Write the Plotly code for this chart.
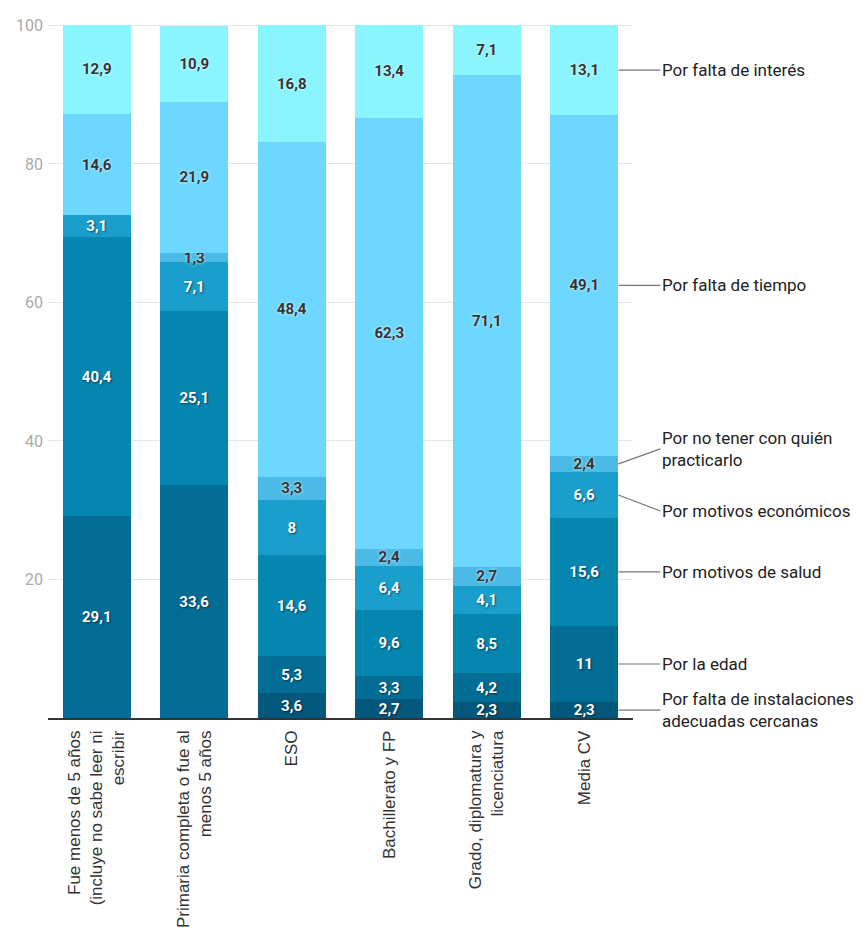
import plotly.graph_objects as go

categories = [
    "Fue menos de 5 años<br>(incluye no sabe leer ni<br>escribir",
    "Primaria completa o fue al<br>menos 5 años",
    "ESO",
    "Bachillerato y FP",
    "Grado, diplomatura y<br>licenciatura",
    "Media CV",
]

series_names = [
    "Por falta de instalaciones<br>adecuadas cercanas",
    "Por la edad",
    "Por motivos de salud",
    "Por motivos económicos",
    "Por no tener con quién<br>practicarlo",
    "Por falta de tiempo",
    "Por falta de interés",
]

instalaciones = [None, None, 3.6, 2.7, 2.3, 2.3]
edad = [29.1, 33.6, 5.3, 3.3, 4.2, 11]
salud = [40.4, 25.1, 14.6, 9.6, 8.5, 15.6]
economicos = [3.1, 7.1, 8, 6.4, 4.1, 6.6]
no_tener = [None, 1.3, 3.3, 2.4, 2.7, 2.4]
tiempo = [14.6, 21.9, 48.4, 62.3, 71.1, 49.1]
interes = [12.9, 10.9, 16.8, 13.4, 7.1, 13.1]

series_values = [instalaciones, edad, salud, economicos, no_tener, tiempo, interes]
colors = ["#03587c", "#046d95", "#0586b1", "#1a9fcc", "#4cbae6", "#6dd7ff", "#8bf5ff"]
text_colors = ["white", "white", "white", "white", "#333333", "#333333", "#333333"]
y_ticks = [20, 40, 60, 80, 100]

# offsets (pixels) of the right-hand labels relative to their segment centres
label_dy = [0, 0, 0, 16, -15, 0, 0]


def fmt(v):
    if v is None:
        return ""
    return ("%g" % v).replace(".", ",")


fig = go.Figure()
for name, vals, col, tcol in zip(series_names, series_values, colors, text_colors):
    shadow = ("1px 1px 2px rgba(0,0,0,0.55)" if tcol == "white"
              else "0px 0px 3px rgba(255,255,255,0.9)")
    fig.add_trace(go.Bar(
        x=list(range(len(categories))),
        y=vals,
        name=name.replace("<br>", " "),
        marker=dict(color=col, line=dict(width=0)),
        text=[fmt(v) for v in vals],
        textposition="inside",
        insidetextanchor="middle",
        textangle=0,
        constraintext="none",
        textfont=dict(family="Roboto", size=15, color=tcol, weight="bold", shadow=shadow),
        cliponaxis=False,
        hoverinfo="skip",
    ))

# right-hand labels attached to the last bar
last = len(categories) - 1
cum = 0
for name, vals, dy in zip(series_names, series_values, label_dy):
    v = vals[last] or 0
    center = cum + v / 2
    cum += v
    fig.add_annotation(
        x=last + 0.35, y=center, xref="x", yref="y",
        text=name, showarrow=True, arrowhead=0, arrowwidth=1.2,
        arrowcolor="#777777", ax=42, ay=dy, xanchor="left", yanchor="middle",
        align="left", standoff=0,
        font=dict(family="Roboto", size=17, color="#222222"),
    )

fig.update_layout(
    barmode="stack",
    bargap=0.3,
    width=861, height=933,
    margin=dict(l=48, r=228, t=24, b=215, autoexpand=False),
    paper_bgcolor="white", plot_bgcolor="white",
    showlegend=False,
    font=dict(family="Roboto"),
)
fig.update_xaxes(
    tickmode="array", tickvals=list(range(len(categories))), ticktext=categories,
    tickangle=-90, showline=True, linecolor="#333333", linewidth=1.5,
    showgrid=False, ticks="", range=[-0.5, len(categories) - 0.5],
    ticklabelstandoff=4, automargin=False,
    tickfont=dict(family="Liberation Sans", size=17, color="#333333"),
)
fig.update_yaxes(
    range=[0, 100.2], tickvals=y_ticks, showgrid=True, gridcolor="#e6e6e6",
    zeroline=False, showline=False, ticks="", ticklabelstandoff=4, automargin=False,
    tickfont=dict(family="Roboto", size=16, color="#aaaaaa"),
)

fig.write_html("out.html")
